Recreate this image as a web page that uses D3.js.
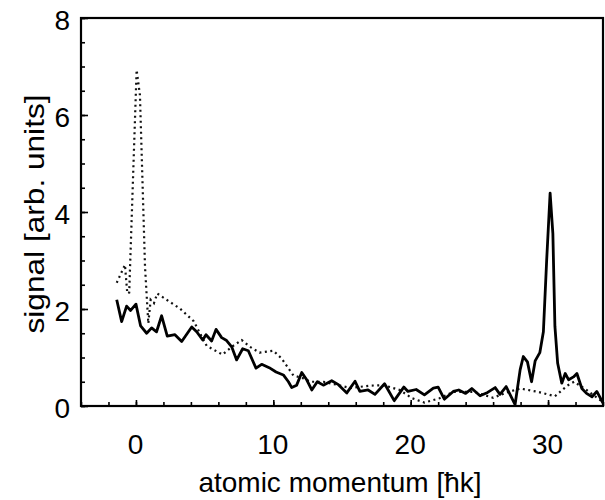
<!DOCTYPE html>
<html><head><meta charset="utf-8">
<script src="https://cdn.jsdelivr.net/npm/d3@7"></script>
<style>body{margin:0;background:#fff} svg text{font-family:"Liberation Sans",Arial,Helvetica,sans-serif;fill:#000}</style>
</head><body><svg id="c" width="605" height="500"></svg>
<script>
// ---- data ----
const solidMomentum = [-1.4,-1.04,-0.68,-0.39,0,0.34,0.78,1.14,1.5,1.87,2.28,2.84,3.33,4.06,4.42,4.86,5.1,5.51,5.83,6.24,6.6,6.97,7.33,7.77,8.18,8.74,9.15,9.7,10.2,10.73,11.1,11.34,11.7,12.07,12.43,12.8,13.2,13.64,14.25,14.74,15.35,15.95,16.3,16.9,17.4,18.1,18.8,19.5,19.8,20.4,21.0,21.65,22.0,22.45,23.1,23.5,24.0,24.45,25.05,25.6,26.15,26.5,26.95,27.6,27.97,28.2,28.5,28.8,29.06,29.4,29.66,29.9,30.15,30.35,30.5,30.7,31.0,31.25,31.5,31.85,32.1,32.46,32.8,33.2,33.55,34.0];
const solidSignal = [2.19,1.74,2.06,1.97,2.10,1.65,1.50,1.61,1.53,1.86,1.44,1.47,1.33,1.63,1.53,1.36,1.47,1.34,1.58,1.41,1.35,1.22,0.95,1.18,1.14,0.78,0.86,0.79,0.70,0.64,0.50,0.38,0.43,0.69,0.54,0.33,0.50,0.43,0.52,0.44,0.27,0.51,0.30,0.33,0.24,0.46,0.11,0.39,0.30,0.34,0.23,0.37,0.39,0.14,0.30,0.33,0.26,0.36,0.21,0.28,0.38,0.24,0.40,0.03,0.75,1.02,0.91,0.50,0.93,1.10,1.53,3.01,4.39,3.56,1.64,0.88,0.47,0.67,0.54,0.60,0.67,0.36,0.26,0.19,0.30,0.06];
const dottedMomentum = [-1.4,-0.8,-0.63,-0.49,0.05,0.29,0.66,0.9,1.07,1.31,1.55,2.23,3.2,4.2,4.66,5.15,6.3,6.97,7.7,8.3,9.0,10.0,10.6,11.46,12.2,12.7,13.64,14.6,15.6,17.0,18.0,19.2,20.1,21.0,22.1,23.1,24.6,26.0,27.0,27.97,29.3,30.5,31.4,31.9,32.8,33.9];
const dottedSignal = [2.54,2.91,2.32,2.34,6.93,6.41,2.87,1.70,2.19,2.12,2.32,2.19,2.01,1.75,1.50,1.24,1.06,1.22,1.36,1.22,1.10,1.14,0.98,0.63,0.57,0.50,0.50,0.44,0.37,0.42,0.43,0.33,0.16,0.07,0.16,0.29,0.29,0.17,0.28,0.36,0.29,0.20,0.42,0.50,0.33,0.10];
const xTickLabels = [0,10,20,30];
const yTickLabels = [0,2,4,6,8];
const xMinorTicks = d3.range(-4,35,2);
const yMinorTicks = d3.range(0,8.01,0.5);
const xTitle = "atomic momentum [ħk]";
const yTitle = "signal [arb. units]";

// ---- layout ----
const W=605,H=500, m={l:81,r:2,t:18,b:94};
const svg=d3.select("#c");
const x=d3.scaleLinear().domain([-4,34]).range([m.l,W-m.r]);
const y=d3.scaleLinear().domain([0,8]).range([H-m.b,m.t]);

svg.append("defs").append("clipPath").attr("id","clip").append("rect")
  .attr("x",m.l).attr("y",m.t).attr("width",W-m.l-m.r).attr("height",H-m.t-m.b);

const line=d3.line().x(d=>x(d[0])).y(d=>y(d[1]));
const solid=solidMomentum.map((v,i)=>[v,solidSignal[i]]);
const dotted=dottedMomentum.map((v,i)=>[v,dottedSignal[i]]);

const plot=svg.append("g").attr("clip-path","url(#clip)");
plot.append("path").datum(dotted).attr("d",line).attr("fill","none")
  .attr("stroke","#111").attr("stroke-width",2.2).attr("stroke-dasharray","2,3.5");
plot.append("path").datum(solid).attr("d",line).attr("fill","none")
  .attr("stroke","#000").attr("stroke-width",2.8).attr("stroke-linejoin","round");

function styleAxis(g){
  g.attr("font-family",null).attr("font-size",null);
  g.select(".domain").remove();
  g.selectAll(".tick line").attr("stroke","#000").attr("stroke-width",1.6);
}
// x minor
svg.append("g").attr("transform",`translate(0,${y(0)})`)
  .call(d3.axisBottom(x).tickValues(xMinorTicks).tickSize(-4).tickFormat(""))
  .call(styleAxis);
// x major
svg.append("g").attr("transform",`translate(0,${y(0)})`)
  .call(d3.axisBottom(x).tickValues(xTickLabels).tickSize(-6).tickFormat(d3.format("d")))
  .call(styleAxis)
  .call(g=>g.selectAll("text").attr("x",-1).attr("y",48).attr("dy",0).style("font-size","28px"));
// y minor
svg.append("g").attr("transform",`translate(${x(-4)},0)`)
  .call(d3.axisLeft(y).tickValues(yMinorTicks).tickSize(-4).tickFormat(""))
  .call(styleAxis);
// y major
svg.append("g").attr("transform",`translate(${x(-4)},0)`)
  .call(d3.axisLeft(y).tickValues(yTickLabels).tickSize(-7).tickFormat(d3.format("d")))
  .call(styleAxis)
  .call(g=>g.selectAll("text").attr("x",-11).attr("dy",0).attr("y",11).style("font-size","28px"));

// frame
svg.append("rect").attr("x",m.l).attr("y",m.t).attr("width",W-m.l-m.r).attr("height",H-m.t-m.b)
  .attr("fill","none").attr("stroke","#000").attr("stroke-width",2.2);

// titles
svg.append("text").attr("x",(m.l+W-m.r)/2 - 2).attr("y",492).attr("text-anchor","middle")
  .style("font-size","28px").text(xTitle);
svg.append("text").attr("transform","translate(44,214) rotate(-90) scale(1.13,1)")
  .attr("text-anchor","middle").style("font-size","28px").text(yTitle);
</script></body></html>
